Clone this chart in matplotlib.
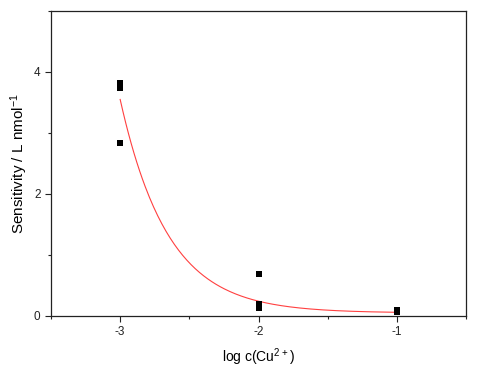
import numpy as np
import matplotlib
matplotlib.use("Agg")
import matplotlib.pyplot as plt
from matplotlib.ticker import MultipleLocator

plt.rcParams['font.family'] = ['Liberation Sans', 'DejaVu Sans']
plt.rcParams['axes.unicode_minus'] = False
plt.rcParams['mathtext.default'] = 'regular'

# measured data
log_c = [-3, -3, -3, -2, -2, -2, -1, -1]
sensitivity = [3.82, 3.73, 2.83, 0.69, 0.19, 0.13, 0.10, 0.07]

# exponential decay fit parameters: y = y0 + A*exp(-(x - x0)/t)
fit_y0 = 0.05
fit_A = 3.5
fit_x0 = -3.0
fit_t = 0.345
fit_range = (-3.0, -1.0)

fig = plt.figure(figsize=(4.84, 3.70), dpi=100)
ax = fig.add_axes([51/484, 54/370, (466-51)/484, (316-11)/370])

xf = np.linspace(fit_range[0], fit_range[1], 200)
yf = fit_y0 + fit_A*np.exp(-(xf - fit_x0)/fit_t)
ax.plot(xf, yf, color='#ff4040', lw=0.8, zorder=2)
ax.plot(log_c, sensitivity, 's', color='black', ms=5, mew=0, zorder=3)

ax.set_xlim(-3.5, -0.5)
ax.set_ylim(0, 5)
ax.xaxis.set_major_locator(MultipleLocator(1))
ax.xaxis.set_minor_locator(MultipleLocator(0.5))
ax.yaxis.set_major_locator(MultipleLocator(2))
ax.yaxis.set_minor_locator(MultipleLocator(1))
ax.tick_params(which='both', direction='out', top=False, right=False, labelsize=8.5, width=0.8, colors='#222222')
ax.tick_params(which='major', length=4)
ax.tick_params(which='minor', length=2.5)
for s in ax.spines.values():
    s.set_linewidth(0.9)
    s.set_color('#222222')

ax.set_xlabel(r'log c(Cu$^{2+}$)', fontsize=10, labelpad=6)
ax.set_ylabel(r'Sensitivity / L nmol$^{-1}$', fontsize=11, labelpad=3)

fig.savefig('out.png', dpi=100)
